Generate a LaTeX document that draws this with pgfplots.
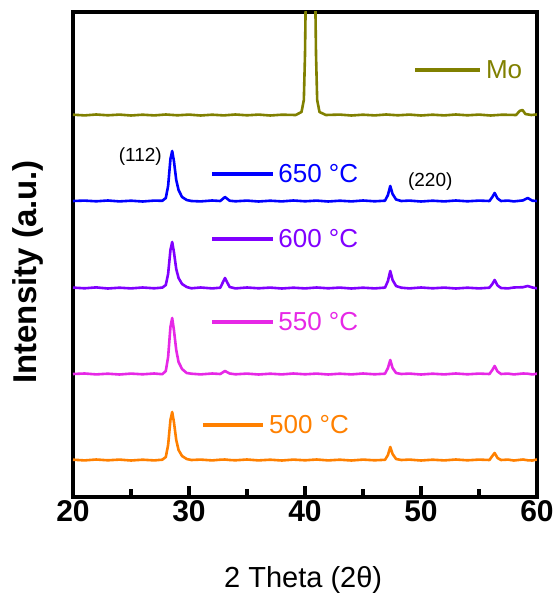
\documentclass[border=0pt]{standalone}
\usepackage{fontspec}
\setmainfont{Liberation Sans}
\usepackage{pgfplots}
\usepackage{pgfplotstable}
\pgfplotsset{compat=1.18}

\definecolor{moc}{RGB}{128,128,0}
\definecolor{c650}{RGB}{0,0,255}
\definecolor{c600}{RGB}{128,0,255}
\definecolor{c550}{RGB}{230,40,230}
\definecolor{c500}{RGB}{255,128,0}

% relative intensities (a.u.), baselines offset below
\pgfplotstableread{
x     a500  a550  a600  a650
20    0.3   0.0   0.4   0.0
21   -0.4   0.5  -0.3   0.4
22    0.5  -0.4   0.6  -0.3
23   -0.3   0.3  -0.5   0.5
24    0.4  -0.5   0.3  -0.4
25   -0.5   0.4  -0.4   0.3
26    0.3  -0.3   0.5  -0.5
27   -0.4   0.5  -0.3   0.4
27.7  0.3  -0.2   0.4   0.2
28.0  3     3     3     3
28.2  15    17    14    15
28.4  40    47    38    42
28.55 48    56    46    50
28.7  38    44    36    40
28.9  20    24    19    21
29.1  10    12    10    11
29.4  4     5     4     4
29.8  1     1     1     1
30.2  0     0.3  -0.3   0
31    0.4  -0.4   0.5  -0.4
32   -0.4   0.5  -0.4   0.5
32.7  0.3   0     0.3   0
33.1  0.5   3     10    4
33.5  0     0.5   1     0.3
34   -0.3  -0.3  -0.4  -0.3
35    0.5   0.4   0.5   0.4
36   -0.4  -0.5  -0.3  -0.5
37    0.3   0.3   0.4   0.3
38   -0.5  -0.4  -0.5  -0.4
39    0.4   0.5   0.3   0.5
40   -0.3  -0.3  -0.4  -0.3
41    0.5   0.4   0.5   0.4
42   -0.4  -0.5  -0.3  -0.5
43    0.3   0.3   0.4   0.3
44   -0.5  -0.4  -0.5  -0.4
45    0.4   0.5   0.3   0.5
46   -0.3  -0.3  -0.4  -0.3
46.9  0.2   0.3   0.4   0.3
47.15 5     6     7     6
47.35 13    14    17    15
47.55 6     6     8     7
47.85 1     1     2     1.5
48.3  0     0     0.3   0
49    0.4   0.4  -0.4   0.4
50   -0.5  -0.5   0.5  -0.5
51    0.3   0.3  -0.3   0.3
52   -0.4  -0.4   0.4  -0.4
53    0.5   0.5  -0.5   0.5
54   -0.3  -0.3   0.3  -0.3
55    0.4   0.4  -0.4   0.4
55.9  0     0     0.3   0
56.15 4     4     4     4
56.35 7     8     8     8
56.6  2     2.5   2.5   2.5
56.9  0     0     0     0
57.5  0.4   0.4  -0.4   0.4
58   -0.5  -0.4   0.5  -0.4
58.8  0.5   0.5   0.8   0.6
59.2 -0.3   0.3   2     3
59.6 -0.5  -0.4   0.5   0.3
60    0.5   0.3  -0.3   0
}\cigs

\pgfplotstableread{
x     mo
20    0.3
21   -0.4
22    0.5
23   -0.3
24    0.4
25   -0.5
26    0.3
27   -0.4
28    0.5
29   -0.3
30    0.4
31   -0.5
32    0.3
33   -0.4
34    0.5
35   -0.3
36    0.4
37   -0.5
38    0.3
39.2  0
39.7  3
39.9  15
40.0  60
40.1  150
40.47 400
40.85 150
40.95 60
41.05 15
41.25 3
41.8  0
43    0.4
44   -0.5
45    0.3
46   -0.4
47    0.5
48   -0.3
49    0.4
50   -0.5
51    0.3
52   -0.4
53    0.5
54   -0.3
55    0.4
56   -0.5
57    0.3
58.2  0
58.5  4
58.75 5
59.0  1
59.5  0
60    0.5
}\motab

\begin{document}
\begin{tikzpicture}
\begin{axis}[
  scale only axis,
  width=464pt, height=485pt,
  xmin=20, xmax=60, ymin=0, ymax=485,
  axis line style={line width=3.5pt},
  xtick={20,30,40,50,60},
  minor xtick={25,35,45,55},
  xtick pos=bottom,
  tick align=inside,
  major tick length=11pt,
  minor tick length=8pt,
  every tick/.style={line width=3.5pt, black},
  ytick=\empty,
  ticklabel style={font=\fontsize{30}{30}\selectfont\bfseries},
  /pgf/number format/assume math mode=true,
  xlabel={2 Theta (2θ)},
  xlabel style={font=\fontsize{29}{29}\selectfont, at={(axis description cs:0.496,0)}, anchor=center, yshift=-83pt},
  ylabel={Intensity (a.u.)},
  ylabel style={font=\fontsize{33}{33}\selectfont\bfseries, at={(axis description cs:-0.097,0.464)}, anchor=center},
  clip=true,
  every axis plot/.append style={line width=2.6pt, line join=round},
]
\addplot[moc] table[x=x, y expr=\thisrow{mo}+382] {\motab};
\addplot[c650] table[x=x, y expr=\thisrow{a650}+296] {\cigs};
\addplot[c600] table[x=x, y expr=\thisrow{a600}+209] {\cigs};
\addplot[c550] table[x=x, y expr=\thisrow{a550}+123] {\cigs};
\addplot[c500] table[x=x, y expr=\thisrow{a500}+37] {\cigs};

% legend keys
\addplot[moc, line width=4pt] coordinates {(49.5,427) (55.1,427)};
\addplot[c650, line width=4pt] coordinates {(32.0,323) (37.2,323)};
\addplot[c600, line width=4pt] coordinates {(32.0,258) (37.2,258)};
\addplot[c550, line width=4pt] coordinates {(32.0,175) (37.2,175)};
\addplot[c500, line width=4pt] coordinates {(31.2,72) (36.4,72)};

\node[moc, anchor=west, font=\fontsize{26}{26}\selectfont] at (axis cs:55.3,427) {Mo};
\node[c650, anchor=west, font=\fontsize{26}{26}\selectfont] at (axis cs:37.4,323) {650 °C};
\node[c600, anchor=west, font=\fontsize{26}{26}\selectfont] at (axis cs:37.4,258) {600 °C};
\node[c550, anchor=west, font=\fontsize{26}{26}\selectfont] at (axis cs:37.4,175) {550 °C};
\node[c500, anchor=west, font=\fontsize{26}{26}\selectfont] at (axis cs:36.6,72) {500 °C};

\node[font=\fontsize{19}{19}\selectfont] at (axis cs:25.8,340) {(112)};
\node[font=\fontsize{19}{19}\selectfont] at (axis cs:50.8,315) {(220)};
\end{axis}
% page margins as in the reference
\path ([xshift=-73pt,yshift=-103pt]current axis.south west);
\path ([xshift=16pt,yshift=12pt]current axis.north east);
\end{tikzpicture}
\end{document}
